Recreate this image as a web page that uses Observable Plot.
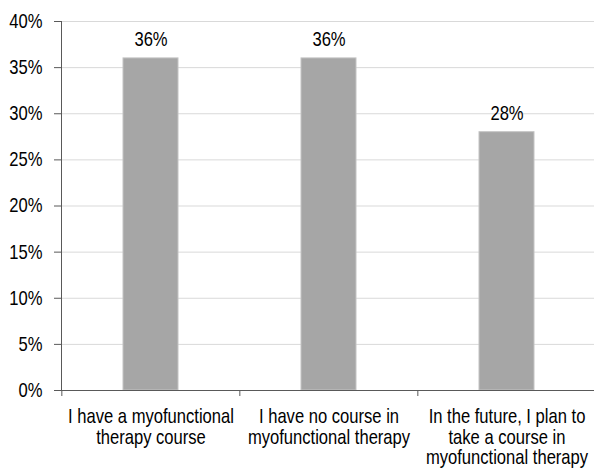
<!DOCTYPE html>
<html><head><meta charset="utf-8">
<script src="https://cdn.jsdelivr.net/npm/d3@7"></script>
<script src="https://cdn.jsdelivr.net/npm/@observablehq/plot@0.6"></script>
<style>body{margin:0;background:#fff} svg{display:block}</style>
</head><body><div id="chart"></div>
<script>
const categories = ["I have a myofunctional therapy course", "I have no course in myofunctional therapy", "In the future, I plan to take a course in myofunctional therapy"];
const categoryLabels = ["I have a myofunctional\ntherapy course", "I have no course in\nmyofunctional therapy", "In the future, I plan to\ntake a course in\nmyofunctional therapy"];
const values = [36, 36, 28];
const valueLabels = ["36%", "36%", "28%"];
const yTicks = [0, 5, 10, 15, 20, 25, 30, 35, 40];

function hasFont(name) {
  const c = document.createElement("canvas").getContext("2d");
  const s = "abcdefghijklmnopqrstuvwxyz 0123456789%";
  c.font = "20px monospace";
  const a = c.measureText(s).width;
  c.font = `20px '${name}', monospace`;
  return Math.abs(c.measureText(s).width - a) > 0.5;
}
const narrow = hasFont("Liberation Sans Narrow");
const family = narrow ? "'Liberation Sans Narrow', 'Arial Narrow', sans-serif" : "'Liberation Sans', Arial, sans-serif";

const data = categories.map((c, i) => ({category: c, value: values[i], label: valueLabels[i]}));
const W = 594, H = 469, mL = 61, mR = -2, mT = 21, mB = 79;
const step = (W - mL - mR) / categories.length;
const plot = Plot.plot({
  width: W, height: H, marginLeft: mL, marginRight: mR, marginTop: mT, marginBottom: mB,
  style: {fontFamily: family, fontSize: "20px", color: "#000", background: "#fff", overflow: "visible"},
  x: {domain: categories, paddingInner: 0.69, paddingOuter: 0.345},
  y: {domain: [0, 40]},
  marks: [
    Plot.gridY(yTicks, {stroke: "#d9d9d9", strokeOpacity: 1}),
    Plot.barY(data, {x: "category", y: "value", fill: "#a6a6a6", stroke: "#c4c4c4", strokeWidth: 1}),
    Plot.text(data, {x: "category", y: "value", text: "label", lineAnchor: "bottom", dy: -12, fontSize: 20, fill: "#000"}),
    Plot.ruleX(categories, {x: d => d, y1: 0, y2: 0, dx: -step / 2, insetBottom: -6, stroke: "#595959"}),
    Plot.frame({anchor: "bottom", stroke: "#595959"}),
    Plot.frame({anchor: "left", stroke: "#595959"}),
    Plot.axisY({ticks: yTicks, tickFormat: d => d + "%", tickSize: 7, tickPadding: 12, stroke: "#595959", fill: "#000", fontSize: 20, label: null}),
    Plot.axisX({tickSize: 0, tickPadding: 18, tickFormat: d => categoryLabels[categories.indexOf(d)], lineHeight: 1.025, fontSize: 20, label: null, fill: "#000"})
  ]
});
document.getElementById("chart").appendChild(plot);
if (!narrow) {
  plot.querySelectorAll("text").forEach(t => {
    const tr = t.getAttribute("transform") || "";
    t.setAttribute("transform", (tr + " scale(0.83,1)").trim());
  });
}
</script>
</body></html>
